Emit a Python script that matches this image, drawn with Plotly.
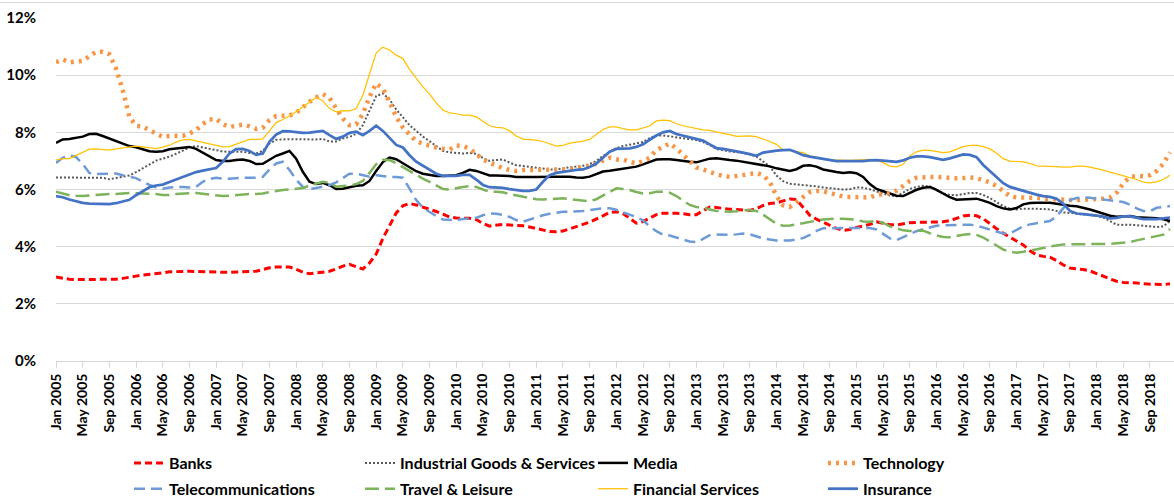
import pandas as pd
import plotly.graph_objects as go

months = list(pd.date_range("2005-01-01", periods=168, freq="MS").strftime("%b %Y"))
tick_labels = months[::4]

banks = [
    2.94, 2.90, 2.86, 2.85, 2.85, 2.85, 2.85, 2.85, 2.85, 2.86, 2.89, 2.92,
    2.97, 3.01, 3.03, 3.06, 3.08, 3.12, 3.13, 3.14, 3.14, 3.13, 3.12, 3.11,
    3.10, 3.10, 3.10, 3.11, 3.12, 3.13, 3.14, 3.20, 3.26, 3.29, 3.29, 3.29,
    3.21, 3.11, 3.05, 3.08, 3.11, 3.14, 3.22, 3.32, 3.38, 3.29, 3.22, 3.43,
    3.74, 4.29, 4.75, 5.18, 5.43, 5.51, 5.46, 5.39, 5.32, 5.23, 5.14, 5.04,
    5.00, 4.99, 4.99, 4.95, 4.81, 4.72, 4.74, 4.78, 4.76, 4.75, 4.73, 4.69,
    4.64, 4.58, 4.53, 4.52, 4.55, 4.62, 4.69, 4.78, 4.86, 4.96, 5.08, 5.20,
    5.22, 5.16, 4.98, 4.82, 4.88, 4.99, 5.12, 5.17, 5.18, 5.17, 5.15, 5.12,
    5.12, 5.27, 5.39, 5.37, 5.33, 5.31, 5.30, 5.29, 5.27, 5.33, 5.44, 5.51,
    5.53, 5.60, 5.67, 5.65, 5.37, 5.10, 4.96, 4.85, 4.74, 4.64, 4.57, 4.60,
    4.67, 4.73, 4.78, 4.87, 4.83, 4.77, 4.76, 4.80, 4.84, 4.85, 4.86, 4.87,
    4.86, 4.87, 4.91, 5.00, 5.07, 5.10, 5.08, 4.98, 4.79, 4.63, 4.47, 4.33,
    4.20, 4.06, 3.86, 3.71, 3.66, 3.63, 3.51, 3.36, 3.25, 3.23, 3.20, 3.15,
    3.07, 2.97, 2.87, 2.79, 2.75, 2.75, 2.73, 2.70, 2.69, 2.67, 2.67, 2.70,
]

industrial = [
    6.42, 6.42, 6.42, 6.42, 6.43, 6.43, 6.42, 6.41, 6.36, 6.40, 6.44, 6.49,
    6.61, 6.75, 6.90, 7.01, 7.08, 7.15, 7.25, 7.36, 7.47, 7.52, 7.47, 7.43,
    7.38, 7.33, 7.32, 7.32, 7.32, 7.28, 7.26, 7.35, 7.61, 7.74, 7.76, 7.76,
    7.76, 7.76, 7.74, 7.75, 7.77, 7.68, 7.68, 7.79, 7.84, 7.95, 8.25, 8.78,
    9.27, 9.36, 9.15, 8.80, 8.54, 8.25, 8.05, 7.85, 7.69, 7.52, 7.35, 7.30,
    7.28, 7.26, 7.28, 7.25, 7.10, 7.00, 7.03, 7.05, 6.94, 6.85, 6.82, 6.79,
    6.75, 6.71, 6.70, 6.70, 6.75, 6.78, 6.80, 6.83, 6.89, 7.00, 7.17, 7.32,
    7.45, 7.52, 7.56, 7.60, 7.66, 7.80, 7.89, 7.89, 7.86, 7.82, 7.79, 7.75,
    7.73, 7.66, 7.56, 7.42, 7.37, 7.33, 7.31, 7.26, 7.23, 7.15, 6.99, 6.81,
    6.49, 6.29, 6.20, 6.18, 6.16, 6.14, 6.11, 6.07, 6.05, 6.02, 6.00, 6.01,
    6.07, 6.06, 6.01, 5.93, 5.86, 5.79, 5.76, 5.90, 6.02, 6.09, 6.13, 6.11,
    5.98, 5.86, 5.81, 5.80, 5.84, 5.88, 5.88, 5.81, 5.70, 5.55, 5.42, 5.33,
    5.30, 5.33, 5.33, 5.33, 5.32, 5.30, 5.25, 5.20, 5.18, 5.15, 5.12, 5.10,
    5.08, 5.02, 4.90, 4.77, 4.76, 4.77, 4.75, 4.73, 4.70, 4.69, 4.71, 4.90,
]

media = [
    7.63, 7.75, 7.77, 7.82, 7.85, 7.94, 7.95, 7.87, 7.78, 7.69, 7.61, 7.52,
    7.48, 7.42, 7.34, 7.32, 7.34, 7.41, 7.43, 7.47, 7.49, 7.42, 7.28, 7.14,
    7.03, 7.00, 7.00, 7.03, 7.05, 7.00, 6.89, 6.90, 7.03, 7.18, 7.26, 7.35,
    7.08, 6.62, 6.27, 6.19, 6.23, 6.15, 6.02, 6.03, 6.08, 6.13, 6.15, 6.30,
    6.65, 6.96, 7.12, 7.06, 6.92, 6.78, 6.64, 6.55, 6.50, 6.47, 6.47, 6.48,
    6.50, 6.58, 6.69, 6.65, 6.56, 6.49, 6.49, 6.49, 6.47, 6.44, 6.45, 6.44,
    6.44, 6.45, 6.45, 6.45, 6.45, 6.45, 6.42, 6.41, 6.45, 6.55, 6.63, 6.66,
    6.69, 6.73, 6.75, 6.80, 6.88, 6.97, 7.05, 7.06, 7.06, 7.03, 6.99, 6.97,
    6.95, 7.02, 7.08, 7.09, 7.05, 7.03, 7.01, 6.97, 6.95, 6.91, 6.87, 6.81,
    6.74, 6.69, 6.65, 6.71, 6.83, 6.85, 6.80, 6.70, 6.65, 6.61, 6.58, 6.60,
    6.57, 6.44, 6.19, 6.02, 5.94, 5.87, 5.78, 5.77, 5.87, 5.99, 6.06, 6.09,
    5.99, 5.85, 5.73, 5.64, 5.65, 5.68, 5.68, 5.61, 5.53, 5.42, 5.34, 5.30,
    5.35, 5.48, 5.53, 5.54, 5.54, 5.54, 5.50, 5.46, 5.43, 5.41, 5.36, 5.30,
    5.23, 5.15, 5.08, 5.05, 5.06, 5.07, 5.03, 5.02, 5.01, 4.99, 4.96, 4.90,
]

technology = [
    10.45, 10.55, 10.45, 10.47, 10.50, 10.66, 10.82, 10.82, 10.73, 10.23, 9.48, 8.54,
    8.23, 8.20, 8.08, 7.96, 7.84, 7.87, 7.87, 7.88, 7.96, 8.08, 8.29, 8.45,
    8.47, 8.29, 8.19, 8.23, 8.27, 8.21, 8.12, 8.16, 8.43, 8.57, 8.57, 8.59,
    8.68, 8.89, 9.07, 9.22, 9.34, 9.20, 8.85, 8.48, 8.25, 8.28, 8.64, 9.24,
    9.71, 9.53, 9.07, 8.54, 8.17, 7.92, 7.69, 7.60, 7.52, 7.47, 7.43, 7.40,
    7.54, 7.52, 7.43, 7.22, 7.05, 6.93, 6.82, 6.75, 6.68, 6.65, 6.68, 6.68,
    6.68, 6.68, 6.68, 6.69, 6.70, 6.72, 6.75, 6.77, 6.82, 6.91, 7.00, 7.11,
    7.05, 7.05, 6.97, 6.91, 6.99, 7.11, 7.38, 7.50, 7.61, 7.44, 7.20, 6.96,
    6.77, 6.70, 6.60, 6.53, 6.48, 6.44, 6.47, 6.51, 6.55, 6.58, 6.50, 6.27,
    5.77, 5.45, 5.39, 5.57, 5.77, 5.91, 5.95, 5.94, 5.88, 5.80, 5.75, 5.74,
    5.73, 5.72, 5.72, 5.81, 5.84, 5.87, 5.96, 6.12, 6.30, 6.41, 6.44, 6.44,
    6.44, 6.42, 6.40, 6.39, 6.40, 6.42, 6.40, 6.33, 6.25, 6.12, 5.93, 5.77,
    5.72, 5.72, 5.72, 5.71, 5.68, 5.66, 5.64, 5.63, 5.63, 5.63, 5.64, 5.66,
    5.68, 5.68, 5.72, 5.89, 6.21, 6.44, 6.47, 6.46, 6.50, 6.65, 6.90, 7.30,
]

telecom = [
    6.93, 7.11, 7.19, 7.14, 6.89, 6.58, 6.54, 6.54, 6.56, 6.56, 6.50, 6.44,
    6.40, 6.27, 6.16, 6.08, 6.03, 6.07, 6.09, 6.09, 6.07, 6.09, 6.27, 6.37,
    6.41, 6.38, 6.38, 6.40, 6.41, 6.41, 6.41, 6.44, 6.70, 6.91, 6.97, 6.68,
    6.35, 6.09, 6.02, 6.05, 6.10, 6.15, 6.25, 6.40, 6.55, 6.55, 6.50, 6.45,
    6.50, 6.47, 6.44, 6.44, 6.41, 6.03, 5.63, 5.36, 5.21, 5.07, 4.95, 4.93,
    4.93, 4.97, 4.99, 5.01, 5.10, 5.16, 5.15, 5.11, 5.04, 4.93, 4.87, 4.95,
    5.02, 5.10, 5.15, 5.18, 5.22, 5.22, 5.23, 5.25, 5.28, 5.32, 5.34, 5.34,
    5.29, 5.20, 5.13, 5.04, 4.92, 4.71, 4.54, 4.42, 4.39, 4.33, 4.25, 4.18,
    4.16, 4.27, 4.40, 4.43, 4.41, 4.41, 4.43, 4.46, 4.43, 4.36, 4.29, 4.25,
    4.22, 4.22, 4.22, 4.25, 4.30, 4.41, 4.55, 4.64, 4.65, 4.65, 4.65, 4.65,
    4.65, 4.65, 4.65, 4.60, 4.43, 4.29, 4.23, 4.33, 4.44, 4.54, 4.61, 4.68,
    4.73, 4.75, 4.75, 4.75, 4.77, 4.77, 4.74, 4.67, 4.60, 4.51, 4.46, 4.46,
    4.60, 4.71, 4.78, 4.82, 4.84, 4.90, 5.06, 5.33, 5.63, 5.70, 5.72, 5.71,
    5.68, 5.66, 5.63, 5.59, 5.56, 5.47, 5.34, 5.25, 5.24, 5.36, 5.40, 5.42,
]

travel = [
    5.92, 5.86, 5.80, 5.78, 5.77, 5.79, 5.81, 5.82, 5.84, 5.84, 5.86, 5.88,
    5.87, 5.86, 5.86, 5.84, 5.81, 5.81, 5.84, 5.86, 5.88, 5.88, 5.85, 5.82,
    5.79, 5.77, 5.78, 5.80, 5.84, 5.84, 5.84, 5.86, 5.91, 5.95, 5.98, 6.00,
    6.02, 6.05, 6.14, 6.21, 6.27, 6.23, 6.10, 6.12, 6.14, 6.19, 6.30, 6.58,
    6.89, 7.04, 7.03, 6.92, 6.78, 6.64, 6.51, 6.38, 6.27, 6.13, 6.02, 6.00,
    6.05, 6.09, 6.12, 6.09, 6.00, 5.92, 5.92, 5.90, 5.84, 5.79, 5.74, 5.70,
    5.66, 5.65, 5.66, 5.69, 5.69, 5.66, 5.63, 5.60, 5.59, 5.66, 5.79, 5.93,
    6.04, 6.02, 5.98, 5.91, 5.86, 5.87, 5.92, 5.92, 5.89, 5.77, 5.63, 5.46,
    5.39, 5.37, 5.30, 5.25, 5.23, 5.22, 5.24, 5.27, 5.27, 5.25, 5.12, 4.96,
    4.80, 4.73, 4.74, 4.78, 4.83, 4.87, 4.91, 4.95, 4.97, 4.98, 4.98, 4.96,
    4.94, 4.88, 4.87, 4.90, 4.83, 4.71, 4.64, 4.57, 4.55, 4.55, 4.56, 4.47,
    4.39, 4.34, 4.33, 4.37, 4.42, 4.44, 4.41, 4.32, 4.18, 4.01, 3.90, 3.82,
    3.79, 3.82, 3.86, 3.92, 3.95, 4.01, 4.05, 4.08, 4.08, 4.08, 4.08, 4.08,
    4.09, 4.10, 4.10, 4.12, 4.14, 4.16, 4.22, 4.27, 4.30, 4.35, 4.42, 4.62,
]

financial = [
    7.03, 7.08, 7.08, 7.19, 7.31, 7.41, 7.42, 7.40, 7.38, 7.42, 7.46, 7.49,
    7.52, 7.49, 7.46, 7.43, 7.48, 7.55, 7.66, 7.74, 7.75, 7.70, 7.64, 7.59,
    7.53, 7.49, 7.50, 7.59, 7.68, 7.75, 7.75, 7.77, 8.05, 8.34, 8.45, 8.57,
    8.72, 8.89, 9.04, 9.22, 9.10, 8.83, 8.72, 8.76, 8.75, 8.83, 9.30, 10.06,
    10.78, 10.98, 10.88, 10.70, 10.58, 10.20, 9.88, 9.59, 9.34, 9.03, 8.78, 8.68,
    8.65, 8.60, 8.60, 8.54, 8.39, 8.23, 8.17, 8.16, 8.05, 7.87, 7.76, 7.75,
    7.73, 7.68, 7.60, 7.52, 7.54, 7.62, 7.66, 7.69, 7.75, 7.94, 8.10, 8.19,
    8.19, 8.13, 8.09, 8.09, 8.15, 8.22, 8.40, 8.43, 8.41, 8.30, 8.23, 8.18,
    8.13, 8.09, 8.07, 8.01, 7.96, 7.92, 7.86, 7.87, 7.88, 7.85, 7.77, 7.68,
    7.58, 7.38, 7.36, 7.32, 7.29, 7.18, 7.11, 7.06, 7.04, 7.03, 7.01, 7.02,
    7.03, 7.05, 7.05, 7.03, 6.94, 6.82, 6.79, 6.88, 7.17, 7.32, 7.38, 7.37,
    7.33, 7.29, 7.32, 7.40, 7.50, 7.54, 7.54, 7.50, 7.42, 7.27, 7.08, 6.99,
    6.99, 6.97, 6.91, 6.83, 6.82, 6.82, 6.80, 6.78, 6.78, 6.82, 6.82, 6.78,
    6.74, 6.68, 6.61, 6.55, 6.48, 6.42, 6.35, 6.26, 6.23, 6.27, 6.35, 6.50,
]

insurance = [
    5.77, 5.73, 5.65, 5.58, 5.53, 5.51, 5.51, 5.50, 5.49, 5.52, 5.58, 5.64,
    5.80, 5.95, 6.08, 6.14, 6.17, 6.26, 6.35, 6.45, 6.54, 6.61, 6.66, 6.70,
    6.75, 6.97, 7.26, 7.41, 7.42, 7.35, 7.21, 7.26, 7.67, 7.92, 8.04, 8.03,
    8.01, 7.98, 7.99, 8.02, 8.05, 7.90, 7.77, 7.85, 7.98, 8.02, 7.90, 8.05,
    8.23, 8.05, 7.81, 7.56, 7.47, 7.20, 6.97, 6.83, 6.66, 6.55, 6.48, 6.47,
    6.48, 6.51, 6.51, 6.35, 6.16, 6.08, 6.07, 6.06, 6.01, 5.97, 5.95, 5.95,
    6.00, 6.27, 6.50, 6.58, 6.62, 6.66, 6.69, 6.70, 6.79, 6.91, 7.12, 7.32,
    7.42, 7.44, 7.44, 7.49, 7.58, 7.74, 7.89, 8.00, 8.05, 7.94, 7.88, 7.84,
    7.78, 7.71, 7.58, 7.45, 7.42, 7.38, 7.35, 7.29, 7.24, 7.18, 7.29, 7.33,
    7.36, 7.38, 7.39, 7.30, 7.20, 7.15, 7.11, 7.05, 7.01, 6.99, 6.99, 6.99,
    6.99, 6.99, 7.02, 7.03, 7.01, 6.98, 6.97, 7.02, 7.11, 7.16, 7.16, 7.13,
    7.09, 7.04, 7.09, 7.17, 7.23, 7.21, 7.13, 6.86, 6.65, 6.41, 6.22, 6.09,
    6.02, 5.96, 5.89, 5.82, 5.77, 5.74, 5.68, 5.50, 5.25, 5.16, 5.14, 5.12,
    5.09, 5.05, 4.99, 5.01, 5.06, 5.06, 5.01, 4.96, 4.96, 4.96, 4.99, 5.02,
]

y_ticks = [0, 2, 4, 6, 8, 10, 12]
y_tick_labels = ["0%", "2%", "4%", "6%", "8%", "10%", "12%"]

FONT = "Lato"

series = [
    ("Banks", banks, dict(color="#FF0000", width=3, dash="7px,4px"), "legend"),
    ("Industrial Goods & Services", industrial, dict(color="#595959", width=2, dash="2px,2px"), "legend2"),
    ("Media", media, dict(color="#000000", width=2.5), "legend3"),
    ("Technology", technology, dict(color="#F79646", width=4.5, dash="3px,5px"), "legend4"),
    ("Telecommunications", telecom, dict(color="#6E9AD8", width=2.5, dash="11px,6px"), "legend"),
    ("Travel & Leisure", travel, dict(color="#7DB35A", width=2.5, dash="14px,6px"), "legend2"),
    ("Financial Services", financial, dict(color="#FFC000", width=1.25), "legend3"),
    ("Insurance", insurance, dict(color="#4472C4", width=2.75), "legend4"),
]

fig = go.Figure()
for name, vals, line, leg in series:
    fig.add_trace(go.Scatter(
        x=months, y=vals, name=name, mode="lines", line=line,
        legend=leg, legendgroup=name,
    ))

W, H = 1174, 498
ML, MT, MB = 56, 18, 137
plot_w = W - ML
plot_h = H - MT - MB


def px_to_paper_x(px):
    return (px - ML) / plot_w


def py_to_paper_y(py):
    return (H - MB - py) / plot_h


legend_common = dict(
    orientation="v", xanchor="left", yanchor="top",
    font=dict(family=FONT, size=16, color="#000000", weight="bold"),
    bgcolor="rgba(0,0,0,0)", borderwidth=0, tracegroupgap=2,
    itemwidth=30,
)
legend_y = py_to_paper_y(446)
cols_px = [129, 360, 593, 823]

fig.update_layout(
    width=W, height=H,
    margin=dict(l=ML, r=0, t=MT, b=MB, autoexpand=False),
    paper_bgcolor="white", plot_bgcolor="white",
    showlegend=True,
    legend=dict(x=px_to_paper_x(cols_px[0]), y=legend_y, **legend_common),
    legend2=dict(x=px_to_paper_x(cols_px[1]), y=legend_y, **legend_common),
    legend3=dict(x=px_to_paper_x(cols_px[2]), y=legend_y, **legend_common),
    legend4=dict(x=px_to_paper_x(cols_px[3]), y=legend_y, **legend_common),
    xaxis=dict(
        type="category", range=[0, 167.6],
        tickmode="array", tickvals=tick_labels, ticktext=tick_labels,
        tickangle=-90, ticks="outside", ticklen=6, tickcolor="#D9D9D9",
        showline=True, linecolor="#D9D9D9", linewidth=1,
        showgrid=False, zeroline=False,
        tickfont=dict(family=FONT, size=14, color="#000000", weight="bold"),
    ),
    yaxis=dict(
        range=[0, 12], tickmode="array", tickvals=y_ticks, ticktext=y_tick_labels,
        showgrid=True, gridcolor="#D9D9D9", gridwidth=1,
        zeroline=False, showline=False,
        ticks="outside", ticklen=16, tickcolor="rgba(0,0,0,0)",
        tickfont=dict(family=FONT, size=15, color="#000000", weight="bold"),
    ),
    shapes=[dict(
        type="line", xref="paper", yref="paper",
        x0=px_to_paper_x(0), x1=1, y0=py_to_paper_y(2.5), y1=py_to_paper_y(2.5),
        line=dict(color="#D9D9D9", width=1),
    )],
)

fig.write_html(
    "out.html",
    config={"displayModeBar": False},
    post_script="document.body.style.margin='0';document.body.style.overflow='hidden';",
)
